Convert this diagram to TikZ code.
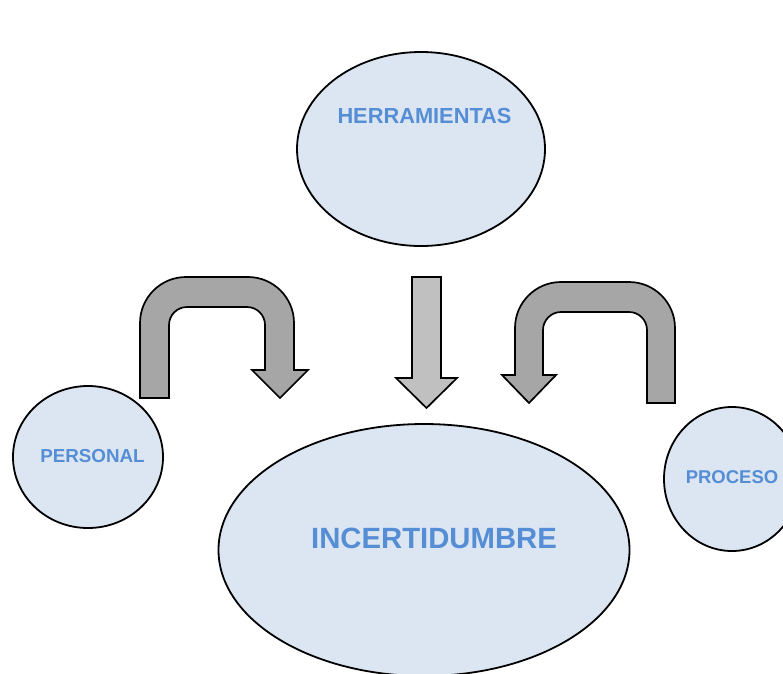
\documentclass[tikz,border=0pt]{standalone}
\usepackage{fontspec}
\setmainfont{Liberation Sans}
\usetikzlibrary{shapes.geometric}
\definecolor{bubblefill}{HTML}{DCE6F2}
\definecolor{labelblue}{HTML}{558ED5}
\definecolor{darkgrey}{HTML}{A6A6A6}
\definecolor{lightgrey}{HTML}{C0C0C0}
\begin{document}
\begin{tikzpicture}[x=1pt,y=1pt,
  bubble/.style={ellipse,draw=black,line width=1.8pt,fill=bubblefill,inner sep=0pt},
  lbl/.style={text=labelblue,font=\bfseries,inner sep=0pt},
  uturn/.style={draw=black,line width=1.7pt,fill=darkgrey,line join=miter},
  downarrow/.style={draw=black,line width=1.7pt,fill=lightgrey,line join=miter}]
\useasboundingbox (0,0) rectangle (783,-673);

% bubbles
\node[bubble,minimum width=248pt,minimum height=194pt] (herr) at (421,-149) {};
\node[bubble,minimum width=150pt,minimum height=142pt] (pers) at (88,-457) {};
\node[bubble,minimum width=136pt,minimum height=144pt] (proc) at (732,-479) {};
\node[bubble,minimum width=411pt,minimum height=252pt] (inc) at (424,-550) {};

% labels
\node[lbl,font=\bfseries\fontsize{21.8}{24}\selectfont] (herrtxt) at (424.5,-116) {HERRAMIENTAS};
\node[lbl,font=\bfseries\fontsize{18.8}{22}\selectfont] (perstxt) at (92.5,-456) {PERSONAL};
\node[lbl,font=\bfseries\fontsize{18.5}{22}\selectfont] (proctxt) at (732,-477) {PROCESO};
\node[lbl,font=\bfseries\fontsize{29.3}{32}\selectfont] (inctxt) at (434,-538) {INCERTIDUMBRE};

% left U-turn arrow (rises from PERSONAL, turns down)
\draw[uturn] (140,-398) -- (140,-323)
  arc[start angle=180,end angle=90,radius=46pt] -- (248,-277)
  arc[start angle=90,end angle=0,radius=46pt] -- (294,-370)
  -- (308,-370) -- (280,-398) -- (252,-370) -- (265,-370) -- (265,-325)
  arc[start angle=0,end angle=90,radius=18pt] -- (187,-307)
  arc[start angle=90,end angle=180,radius=18pt] -- (169,-398) -- cycle;

% straight arrow from HERRAMIENTAS
\draw[downarrow] (412,-277) -- (441,-277) -- (441,-378) -- (457,-378)
  -- (426.5,-408) -- (396,-378) -- (412,-378) -- cycle;

% right U-turn arrow (rises from PROCESO, turns down)
\draw[uturn] (675,-403) -- (675,-328)
  arc[start angle=0,end angle=90,radius=46pt] -- (561,-282)
  arc[start angle=90,end angle=180,radius=46pt] -- (515,-375)
  -- (502,-375) -- (529,-403) -- (556,-375) -- (543,-375) -- (543,-330)
  arc[start angle=180,end angle=90,radius=18pt] -- (629,-312)
  arc[start angle=90,end angle=0,radius=18pt] -- (647,-403) -- cycle;
\end{tikzpicture}
\end{document}
